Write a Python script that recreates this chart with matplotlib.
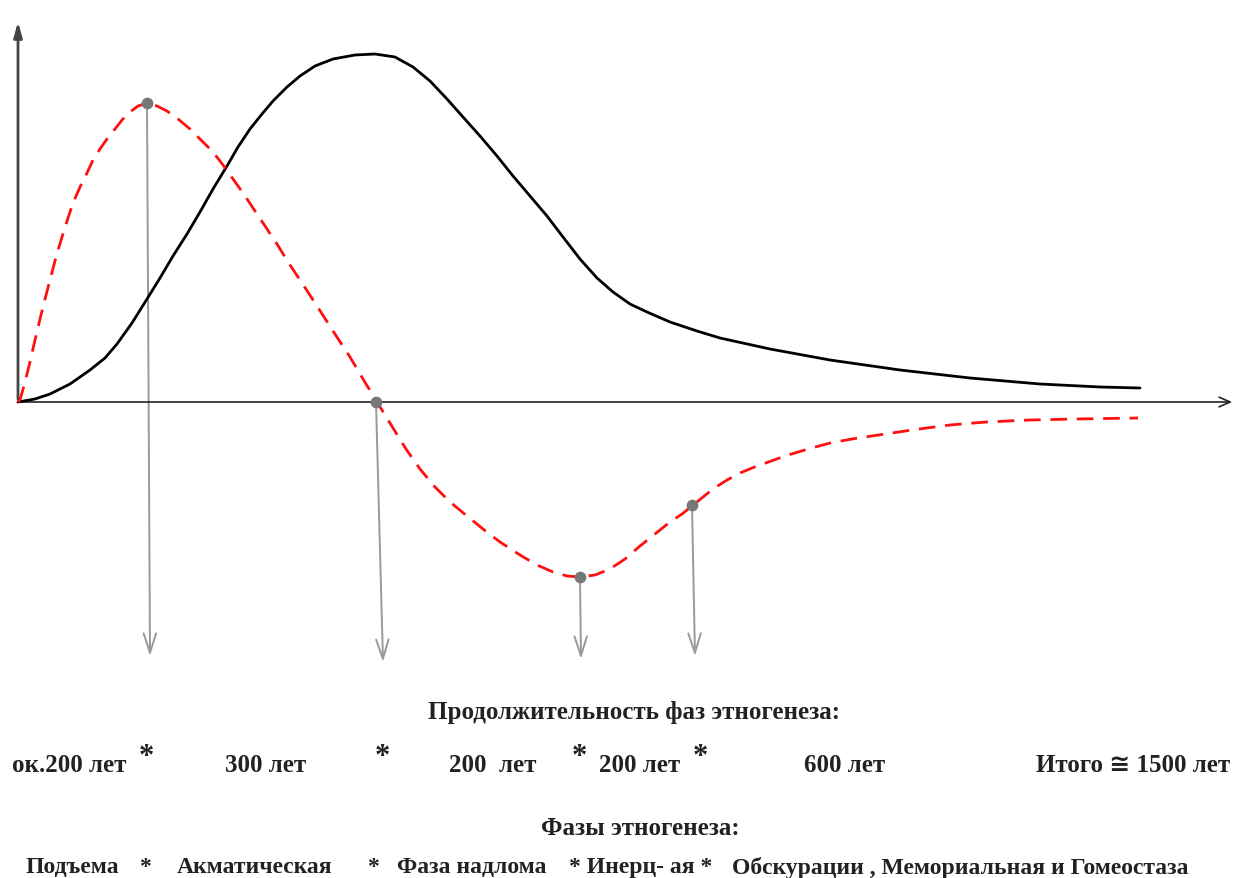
import numpy as np
import matplotlib.pyplot as plt

# picture read in pixels; origin of the chart at (18, 403)
X0, Y0 = 18, 403

# black solid curve (passionarity)
black_px = [18, 35, 50, 70, 90, 105, 117, 132, 147, 160, 173, 187, 200, 213, 227, 238, 250, 262,
            273, 287, 300, 315, 333, 355, 375, 395, 413, 430, 447, 463, 480, 497, 513, 530, 547,
            563, 580, 597, 613, 630, 647, 670, 697, 720, 770, 830, 900, 970, 1040, 1100, 1140]
black_py = [403, 400, 395, 385, 371, 359, 345, 324, 300, 279, 257, 235, 213, 190, 167, 148, 130, 115,
            102, 88, 77, 67, 60, 56, 55, 58, 68, 82, 100, 118, 137, 157, 177, 197, 217,
            238, 260, 279, 293, 305, 313, 323, 332, 339, 350, 361, 371, 379, 385, 388, 389]

# red dashed curve
red_px = [18, 20, 25, 30, 35, 40, 45, 50, 56, 62, 68, 73, 80, 87, 93, 100, 107, 115, 122, 130, 138,
          147, 157, 167, 178, 190, 201, 213, 223, 233, 243, 253, 265, 277, 288, 300, 317, 333, 350,
          363, 377, 393, 406, 420, 435, 450, 467, 483, 500, 520, 537, 553, 567, 580, 595, 610, 625,
          640, 655, 670, 682, 692, 703, 713, 727, 740, 752, 763, 785, 808, 830, 852, 885, 919, 950,
          986, 1030, 1076, 1138]
red_py = [403, 401, 383, 363, 341, 320, 300, 281, 258, 238, 219, 204, 188, 174, 161, 150, 140, 130,
          121, 113, 107, 104, 107, 112, 120, 130, 141, 153, 166, 180, 194, 209, 227, 245, 263, 281,
          307, 332, 358, 380, 403, 429, 450, 470, 488, 503, 517, 530, 543, 556, 566, 573, 577, 578,
          576, 570, 560, 547, 535, 523, 515, 507, 498, 490, 481, 474, 469, 465, 457, 450, 444, 440,
          435, 430, 426, 423, 421, 420, 419]

# phase points and arrow ends
mark_px = [147, 376, 580, 692]
mark_py = [104, 403, 578, 506]
arrow_end_px = [150, 383, 581, 695]
arrow_end_py = [657, 663, 660, 657]

dur_labels = ["ок.200 лет", "300 лет", "200  лет", "200 лет", "600 лет", "Итого ≅ 1500 лет"]
dur_x = [69, 266, 493, 640, 845, 1133]
star_x = [146, 382, 579, 700]
phase_labels = ["Подъема", "*", "Акматическая", "*", "Фаза надлома", "* Инерц- ая *",
                "Обскурации , Мемориальная и Гомеостаза"]
phase_x = [72, 145, 255, 373, 472, 641, 960]


def dx(v):
    return np.array(v) - X0


def dy(v):
    return Y0 - np.array(v)


plt.rcParams['font.family'] = ['Liberation Serif', 'DejaVu Sans']
fig = plt.figure(figsize=(12.47, 8.79), dpi=100)
ax = fig.add_axes([0, 0, 1, 1])
ax.set_xlim(-X0, 1247 - X0)
ax.set_ylim(Y0 - 879, Y0)
ax.axis('off')

# axes with arrows
ax.annotate("", xy=(1235 - X0, 0), xytext=(0, 0),
            arrowprops=dict(arrowstyle="->,head_length=0.8,head_width=0.35", color="#222", lw=1.2))
ax.annotate("", xy=(0, Y0 - 20), xytext=(0, 0),
            arrowprops=dict(arrowstyle="-|>,head_length=0.9,head_width=0.25", color="#444", lw=2.0))

ax.plot(dx(black_px), dy(black_py), color="black", lw=2.0, solid_capstyle="round",
        solid_joinstyle="round", zorder=3)
ax.plot(dx(red_px), dy(red_py), color="#ff1010", lw=2.0, dashes=(6, 3.5), zorder=3)

for mx, my, ex, ey in zip(dx(mark_px), dy(mark_py), dx(arrow_end_px), dy(arrow_end_py)):
    ax.annotate("", xy=(ex, ey), xytext=(mx, my),
                arrowprops=dict(arrowstyle="->,head_length=1.4,head_width=0.45",
                                color="#999999", lw=1.4, shrinkA=0, shrinkB=0), zorder=2)
ax.scatter(dx(mark_px), dy(mark_py), s=55, color="#777777", zorder=4)

tkw = dict(fontsize=18, fontweight="bold", color="#222", va="center")
ax.text(634 - X0, Y0 - 713, "Продолжительность фаз этногенеза:", ha="center", **tkw)
for lab, x in zip(dur_labels, dur_x):
    ax.text(x - X0, Y0 - 766, lab, ha="center", **tkw)
for x in star_x:
    ax.text(x - X0, Y0 - 758, "*", ha="center", fontsize=22, fontweight="bold", color="#222",
            va="center")
ax.text(640 - X0, Y0 - 829, "Фазы этногенеза:", ha="center", **tkw)
for lab, x in zip(phase_labels, phase_x):
    ax.text(x - X0, Y0 - 868, lab, ha="center", fontsize=17, fontweight="bold", color="#222",
            va="center")

fig.savefig("out.png", dpi=100)
